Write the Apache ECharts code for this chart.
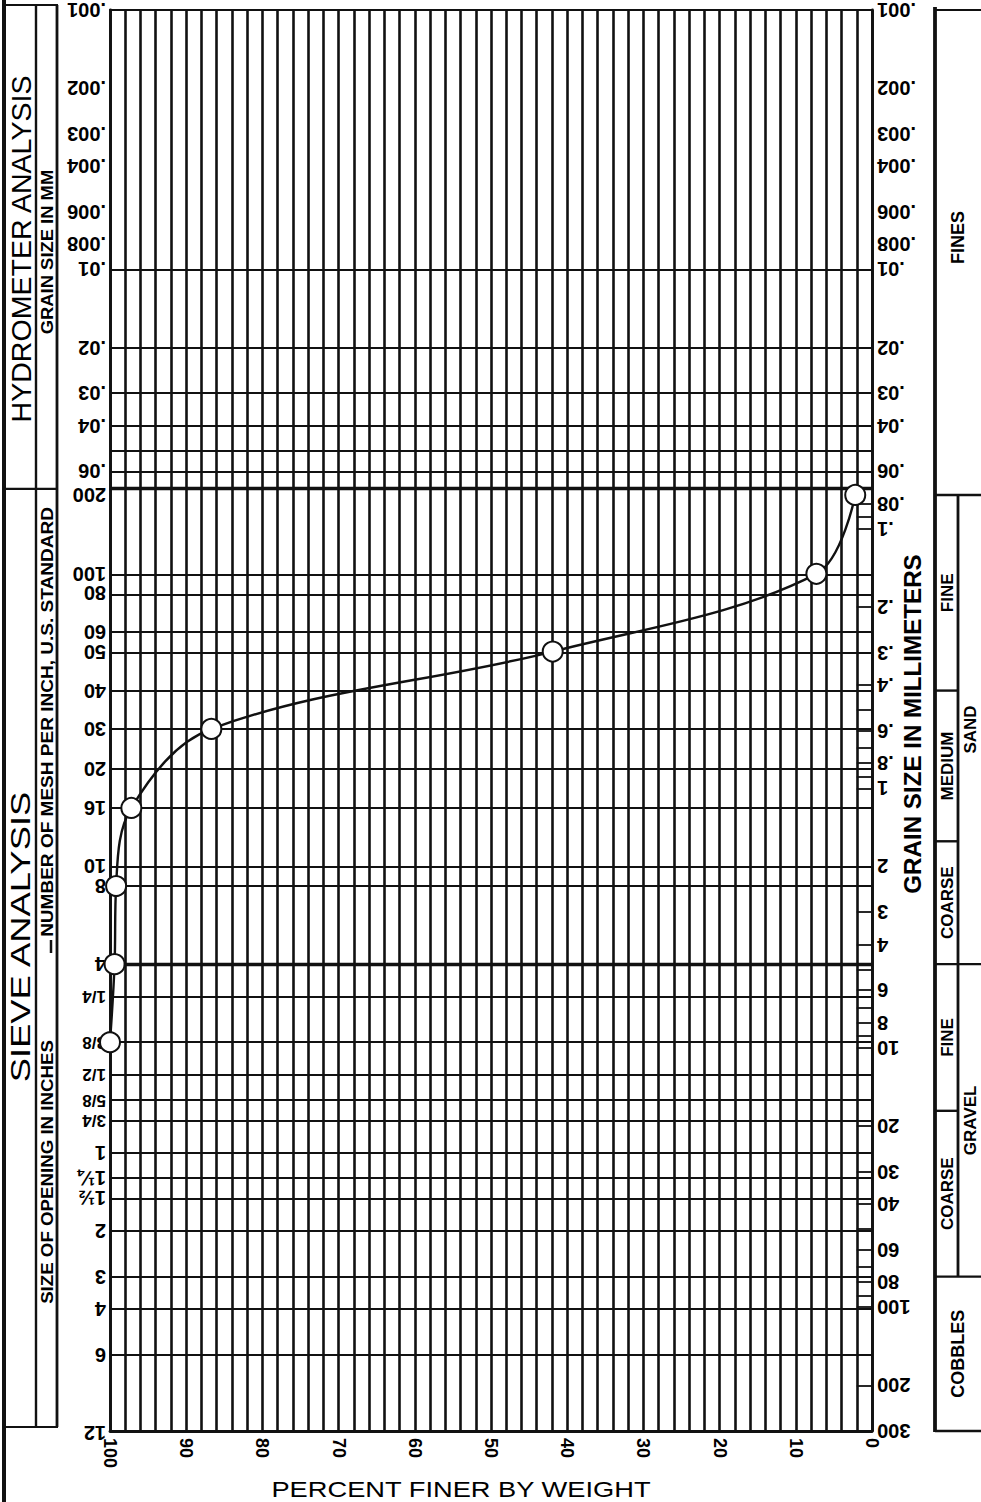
<!DOCTYPE html>
<html><head><meta charset="utf-8">
<script src="https://cdn.jsdelivr.net/npm/echarts@6/dist/echarts.min.js"></script>
<style>html,body{margin:0;padding:0;background:#fff;}#c{width:981px;height:1502px;}</style>
</head><body><div id="c"></div>
<script>
// ---- data ----
const percentTicks = [100, 90, 80, 70, 60, 50, 40, 30, 20, 10, 0];
const hydroLines = [0.002, 0.003, 0.004, 0.005, 0.006, 0.008, 0.01, 0.02, 0.03, 0.04, 0.05, 0.06];
const hydroLabelVals = [0.001, 0.002, 0.003, 0.004, 0.006, 0.008, 0.01, 0.02, 0.03, 0.04, 0.06];
const hydroLabels = ['.001', '.002', '.003', '.004', '.006', '.008', '.01', '.02', '.03', '.04', '.06'];
const sieveSizes = [0.074, 0.149, 0.177, 0.25, 0.297, 0.42, 0.59, 0.84, 1.19, 2.0, 2.38, 4.76, 6.35, 9.52, 12.7, 15.9, 19.05, 25.4, 31.75, 38.1, 50.8, 76.2, 101.6, 152.4, 304.8];
const sieveLabels = ['200', '100', '80', '60', '50', '40', '30', '20', '16', '10', '8', '4', '1/4', '3/8', '1/2', '5/8', '3/4', '1', '1¼', '1½', '2', '3', '4', '6', '12'];
const heavyLines = [0.074, 4.76];
const mmVals = [0.001, 0.002, 0.003, 0.004, 0.006, 0.008, 0.01, 0.02, 0.03, 0.04, 0.06, 0.08, 0.1, 0.2, 0.3, 0.4, 0.6, 0.8, 1, 2, 3, 4, 6, 8, 10, 20, 30, 40, 60, 80, 100, 200, 300];
const mmLabels = ['.001', '.002', '.003', '.004', '.006', '.008', '.01', '.02', '.03', '.04', '.06', '.08', '.1', '.2', '.3', '.4', '.6', '.8', '1', '2', '3', '4', '6', '8', '10', '20', '30', '40', '60', '80', '100', '200', '300'];
const ladderVals = [0.08, 0.09, 0.1, 0.2, 0.3, 0.4, 0.5, 0.6, 0.7, 0.8, 0.9, 1, 2, 3, 4, 5, 6, 7, 8, 9, 10, 20, 30, 40, 50, 60, 70, 80, 90, 100, 200];
const sampleSize = [9.52, 4.76, 2.38, 1.19, 0.59, 0.297, 0.149, 0.074];
const samplePercent = [100, 99.4, 99.2, 97.2, 86.7, 41.9, 7.3, 2.2];
// soil classification bands (mm)
const classSub = [['FINE', 0.074, 0.42], ['MEDIUM', 0.42, 1.6], ['COARSE', 1.6, 4.76], ['FINE', 4.76, 17.5], ['COARSE', 17.5, 76.2]];
const classMain = [['SAND', 0.074, 4.76], ['GRAVEL', 4.76, 76.2]];
const classFull = [['FINES', 0.001, 0.074], ['COBBLES', 76.2, 300]];

const INK = '#111';
const TXT = '#000';
const FONT = '"Liberation Sans", Arial, Helvetica, sans-serif';

const chart = echarts.init(document.getElementById('c'), null, {renderer: 'svg'});
const yBase = {type: 'log', logBase: 10, min: 0.001, max: 300, inverse: true,
  axisLine: {show: true, onZero: false, lineStyle: {color: INK, width: 2.8}},
  axisTick: {show: false}, axisLabel: {show: false}, splitLine: {show: false}};
chart.setOption({
  animation: false,
  backgroundColor: '#fff',
  grid: {left: 110, right: 109, top: 10, bottom: 71},
  xAxis: [{
    type: 'value', min: 0, max: 100, inverse: true, interval: 2,
    axisLine: {show: true, onZero: false, lineStyle: {color: INK, width: 2.8}},
    axisTick: {show: false},
    splitLine: {show: true, lineStyle: {color: INK, width: 2.6}},
    axisLabel: {show: true, rotate: -90, margin: 7, fontSize: 18, fontWeight: 'bold', color: TXT, fontFamily: FONT,
      formatter: v => (percentTicks.indexOf(v) >= 0 ? String(v) : '')}
  }, {
    type: 'value', min: 0, max: 100, inverse: true, position: 'top',
    axisLine: {show: true, onZero: false, lineStyle: {color: INK, width: 2.2}},
    axisTick: {show: false}, axisLabel: {show: false}, splitLine: {show: false}
  }],
  yAxis: [Object.assign({}, yBase, {position: 'left'}), Object.assign({}, yBase, {position: 'right'})],
  series: [
    {type: 'line', data: [], z: 1, silent: true,
      markLine: {silent: true, symbol: ['none', 'none'], label: {show: false}, animation: false,
        lineStyle: {color: INK, width: 2, type: 'solid'},
        data: hydroLines.concat(sieveSizes).map(v => ({yAxis: v}))}},
    {type: 'line', data: [], z: 2, silent: true,
      markLine: {silent: true, symbol: ['none', 'none'], label: {show: false}, animation: false,
        lineStyle: {color: INK, width: 3.4, type: 'solid'},
        data: heavyLines.map(v => ({yAxis: v}))}},
    {type: 'line', data: [], z: 2, silent: true,
      markLine: {silent: true, symbol: ['none', 'none'], label: {show: false}, animation: false,
        lineStyle: {color: INK, width: 1.8, type: 'solid'},
        data: ladderVals.map(v => [{coord: [2, v]}, {coord: [0, v]}])}},
    {type: 'line', z: 5, smooth: 0.35,
      data: samplePercent.map((p, i) => [p, sampleSize[i]]),
      symbol: 'emptyCircle', symbolSize: 20,
      lineStyle: {color: INK, width: 2.4},
      itemStyle: {color: INK, borderColor: INK, borderWidth: 2}}
  ]
});

const yPx = v => chart.convertToPixel({yAxisIndex: 0}, v);
const g = [];
function line(x1, y1, x2, y2, w) {
  g.push({type: 'line', silent: true, shape: {x1, y1, x2, y2}, style: {stroke: INK, lineWidth: w}});
}
function text(t, x, y, opt) {
  opt = opt || {};
  g.push({type: 'text', silent: true, x, y, rotation: opt.rot || 0, scaleX: opt.sx || 1, scaleY: 1,
    style: {text: t, fill: TXT, fontSize: opt.size || 18, fontWeight: opt.weight || 'normal', fontFamily: FONT,
      textAlign: opt.align || 'center', align: opt.align || 'center',
      textVerticalAlign: 'middle', verticalAlign: 'middle'}});
}
// left labels (upside down)
hydroLabelVals.forEach((v, i) => text(hydroLabels[i], 106, yPx(v), {rot: Math.PI, align: 'left', size: 20, weight: 'bold'}));
sieveSizes.forEach((v, i) => {
  const frac = sieveLabels[i].indexOf('/') >= 0;
  text(sieveLabels[i], 106, yPx(v), {rot: Math.PI, align: 'left', size: frac ? 17 : 20, weight: 'bold'});
});
// right labels (upside down)
mmVals.forEach((v, i) => text(mmLabels[i], 877, yPx(v), {rot: Math.PI, align: 'right', size: 20, weight: 'bold'}));

// left panel frame
line(4, 0, 4, 1502, 4);
line(36, 5, 36, 1427, 2.4);
line(57, 5, 57, 1427, 2.8);
line(3, 5, 58, 5, 2.2);
line(3, 1427, 58, 1427, 2.2);
line(4, yPx(0.074) - 6, 57, yPx(0.074) - 6, 2.2);
line(51, 940, 51, 953, 2.5);
const yTop = yPx(0.001), yBot = yPx(300);
text('HYDROMETER ANALYSIS', 21, 249, {rot: Math.PI / 2, size: 28, sx: 1.02});
text('SIEVE ANALYSIS', 21, 937, {rot: Math.PI / 2, size: 28, sx: 1.3});
text('GRAIN SIZE IN MM', 47, 252, {rot: Math.PI / 2, size: 16, sx: 1.15, weight: 'bold'});
text('NUMBER OF MESH PER INCH, U.S. STANDARD', 47, 722, {rot: Math.PI / 2, size: 17, sx: 1.12, weight: 'bold'});
text('SIZE OF OPENING IN INCHES', 47, 1172, {rot: Math.PI / 2, size: 17, sx: 1.1, weight: 'bold'});

// right title
text('GRAIN SIZE IN MILLIMETERS', 913, 724, {rot: Math.PI / 2, size: 23, sx: 1.05, weight: 'bold'});
// bottom title
text('PERCENT FINER BY WEIGHT', 461, 1489, {size: 22, sx: 1.24});

// right classification panel
line(935, yTop - 3, 935, yBot + 1, 3.8);
line(935, yTop, 981, yTop, 2.2);
line(958, yPx(0.074), 958, yPx(76.2), 2.8);
[0.074, 4.76, 76.2, 300].forEach(v => line(935, yPx(v), 981, yPx(v), 2.4));
[0.42, 1.6, 17.5].forEach(v => line(935, yPx(v), 958, yPx(v), 2.4));
classSub.forEach(c => text(c[0], 947, (yPx(c[1]) + yPx(c[2])) / 2, {rot: Math.PI / 2, size: 17, weight: 'bold'}));
classMain.forEach(c => text(c[0], 970, (yPx(c[1]) + yPx(c[2])) / 2, {rot: Math.PI / 2, size: 17, weight: 'bold'}));
classFull.forEach(c => text(c[0], 958, (yPx(c[1]) + yPx(c[2])) / 2 - (c[0] === 'FINES' ? 15 : 0), {rot: Math.PI / 2, size: 18, weight: 'bold'}));

chart.setOption({graphic: {elements: g}});
</script></body></html>
